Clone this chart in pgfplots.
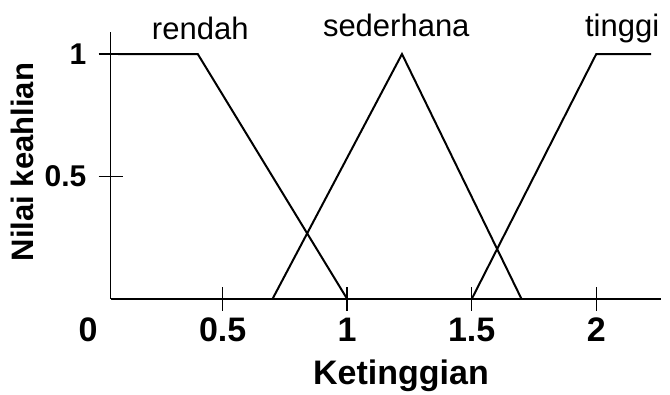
\documentclass[border=0pt]{standalone}
\usepackage{fontspec}
\setmainfont{Liberation Sans}
\usepackage{pgfplots}
\pgfplotsset{compat=1.18}
\begin{document}
\begin{tikzpicture}[x=1pt,y=1pt]
\useasboundingbox (0,0) rectangle (670,395);
\begin{axis}[
  at={(110.6pt,96pt)}, anchor=south west,
  scale only axis, width=550.4pt, height=267pt,
  xmin=0.05, xmax=2.26, ymin=0, ymax=1.09,
  axis x line=bottom, axis y line=left,
  axis line style={-, line width=1.8pt},
  xtick={0.5,1,1.5,2}, xticklabels={0.5,1,1.5,2},
  ytick={0.5,1}, yticklabels={0.5,1},
  tick align=center, major tick length=24pt,
  tick style={line width=1.5pt, black},
  xticklabel style={font=\fontsize{34}{34}\selectfont\bfseries, anchor=base, inner sep=0pt, yshift=-31pt},
  yticklabel style={font=\fontsize{30}{30}\selectfont\bfseries, anchor=east, inner sep=0pt, xshift=-12pt},
  xlabel={Ketinggian}, ylabel={Nilai keahlian},
  xlabel style={font=\fontsize{34}{34}\selectfont\bfseries, at={(rel axis cs:0.5276,-0.322)}, anchor=base, inner sep=0pt},
  ylabel style={font=\fontsize{31}{31}\selectfont\bfseries, at={(rel axis cs:-0.161,0.513)}, anchor=center, inner sep=0pt},
  clip=false,
]
% membership functions
\addplot[black, line width=2pt] coordinates {(0.08,1) (0.4,1) (1,0)};
\addplot[black, line width=2pt] coordinates {(0.7,0) (1.22,1) (1.7,0)};
\addplot[black, line width=2pt] coordinates {(1.5,0) (2,1) (2.22,1)};
% set names
\node[anchor=base, inner sep=0pt, font=\fontsize{31}{31}\selectfont] at (axis cs:0.41,1.061) {rendah};
\node[anchor=base, inner sep=0pt, font=\fontsize{31}{31}\selectfont] at (axis cs:1.197,1.073) {sederhana};
\node[anchor=base, inner sep=0pt, font=\fontsize{31}{31}\selectfont] at (axis cs:2.104,1.073) {tinggi};
% origin label
\node[anchor=base, inner sep=0pt, font=\fontsize{34}{34}\selectfont\bfseries, xshift=-22.6pt, yshift=-43pt] at (axis cs:0.05,0) {0};
\end{axis}
\end{tikzpicture}
\end{document}
